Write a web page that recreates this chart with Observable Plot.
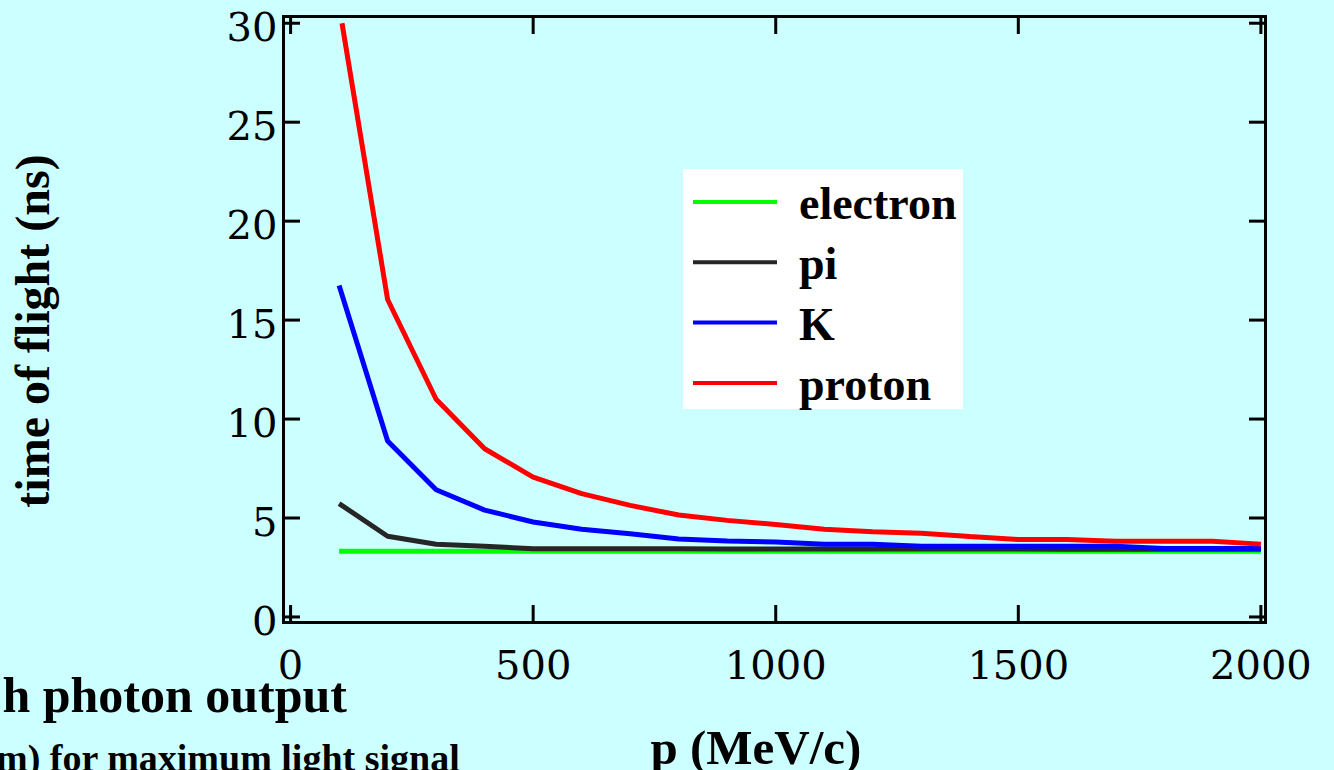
<!DOCTYPE html>
<html><head><meta charset="utf-8">
<script src="https://cdn.jsdelivr.net/npm/d3@7"></script>
<script src="https://cdn.jsdelivr.net/npm/@observablehq/plot@0.6"></script>
<style>
html,body{margin:0;padding:0;background:#ccffff;overflow:hidden}
#chart{position:relative;width:1334px;height:770px;overflow:hidden;background:#ccffff}
</style></head><body><div id="chart"></div>
<script>
// ---- data ----
const momenta = [100,200,300,400,500,600,700,800,900,1000,1100,1200,1300,1400,1500,1600,1700,1800,1900,2000];
const electronTof = [3.32,3.32,3.32,3.32,3.32,3.32,3.32,3.32,3.32,3.32,3.32,3.32,3.32,3.32,3.32,3.32,3.32,3.32,3.32,3.32];
const pionTof = [5.73,4.08,3.67,3.57,3.45,3.45,3.45,3.45,3.44,3.44,3.43,3.43,3.43,3.43,3.43,3.42,3.42,3.42,3.42,3.42];
const kaonTof = [16.75,8.89,6.43,5.40,4.80,4.43,4.20,3.94,3.84,3.79,3.67,3.67,3.57,3.57,3.57,3.57,3.57,3.46,3.46,3.46];
const protonMomenta = [106,200,300,400,500,600,700,800,900,1000,1100,1200,1300,1400,1500,1600,1700,1800,1900,2000];
const protonTof = [30.0,16.04,11.0,8.5,7.07,6.23,5.64,5.15,4.88,4.67,4.43,4.31,4.23,4.06,3.91,3.91,3.82,3.82,3.82,3.68];
const seriesNames = ["electron","pi","K","proton"];
const seriesColors = ["#00ff00","#262626","#0000ff","#ff0000"];
const xTicks = [0,500,1000,1500,2000];
const yTicks = [0,5,10,15,20,25,30];
const xLabel = "p (MeV/c)";
const yLabel = "time of flight (ns)";
const noteLine1 = "h photon output";
const noteLine2 = "m) for maximum light signal";

// ---- tidy table ----
const seriesX = [momenta, momenta, momenta, protonMomenta];
const seriesY = [electronTof, pionTof, kaonTof, protonTof];
const rows = [];
seriesNames.forEach((name, i) => {
  seriesX[i].forEach((p, j) => rows.push({name, p, t: seriesY[i][j]}));
});

const tickFont = "'DejaVu Serif', serif";
const boldFont = "'Liberation Serif', 'DejaVu Serif', serif";

const plot = Plot.plot({
  width: 1334, height: 770,
  marginLeft: 283, marginRight: 69, marginTop: 16, marginBottom: 148,
  style: {background: "transparent", fontFamily: tickFont, color: "black", overflow: "visible"},
  x: {domain: [-14.6, 2009.5]},
  y: {domain: [-0.28, 30.34]},
  color: {domain: seriesNames, range: seriesColors},
  marks: [
    Plot.line(rows, {x: "p", y: "t", z: "name", stroke: "name", strokeWidth: 5, strokeLinejoin: "miter", strokeLinecap: "butt"}),
    Plot.frame({stroke: "black", strokeWidth: 3}),
    Plot.axisX(xTicks, {anchor: "bottom", tickSize: -17, strokeWidth: 3, fill: "none", label: null}),
    Plot.axisX(xTicks, {anchor: "top", tickSize: -17, strokeWidth: 3, fill: "none", label: null}),
    Plot.axisY(yTicks, {anchor: "left", tickSize: -17, strokeWidth: 3, fill: "none", label: null}),
    Plot.axisY(yTicks, {anchor: "right", tickSize: -17, strokeWidth: 3, fill: "none", label: null}),
    Plot.axisX(xTicks, {anchor: "bottom", tickSize: 0, tickPadding: 28, stroke: "none", fontSize: 40, fontFamily: tickFont, tickFormat: d => String(d), label: null}),
    Plot.axisY(yTicks, {anchor: "left", tickSize: 0, tickPadding: 6, dy: 5, stroke: "none", fontSize: 40, fontFamily: tickFont, tickFormat: d => String(d), label: null})
  ]
});

document.getElementById("chart").appendChild(plot);

const svg = d3.select(plot);

// axis titles
svg.append("text")
  .attr("transform", "translate(49,331) rotate(-90)")
  .attr("text-anchor", "middle")
  .attr("font-family", boldFont).attr("font-weight", "bold").attr("font-size", 48)
  .attr("fill", "black")
  .text(yLabel);
svg.append("text")
  .attr("x", 756).attr("y", 764)
  .attr("text-anchor", "middle")
  .attr("font-family", boldFont).attr("font-weight", "bold").attr("font-size", 49)
  .attr("fill", "black")
  .text(xLabel);

// slide text fragments
svg.append("text")
  .attr("x", 347).attr("y", 712)
  .attr("text-anchor", "end")
  .attr("font-family", boldFont).attr("font-weight", "bold").attr("font-size", 50)
  .attr("fill", "black")
  .text(noteLine1);
svg.append("text")
  .attr("x", -4).attr("y", 771)
  .attr("text-anchor", "start")
  .attr("font-family", boldFont).attr("font-weight", "bold").attr("font-size", 38)
  .attr("fill", "black")
  .text(noteLine2);

// legend
const lg = svg.append("g");
lg.append("rect").attr("x", 683).attr("y", 169).attr("width", 280).attr("height", 240).attr("fill", "white");
seriesNames.forEach((name, i) => {
  const yRow = 202 + i * 60.3;
  lg.append("line").attr("x1", 693).attr("x2", 777).attr("y1", yRow).attr("y2", yRow)
    .attr("stroke", seriesColors[i]).attr("stroke-width", 4);
  lg.append("text").attr("x", 799).attr("y", yRow + 17)
    .attr("text-anchor", "start")
    .attr("font-family", boldFont).attr("font-weight", "bold").attr("font-size", 46)
    .attr("fill", "black").text(name);
});
</script>
</body></html>
